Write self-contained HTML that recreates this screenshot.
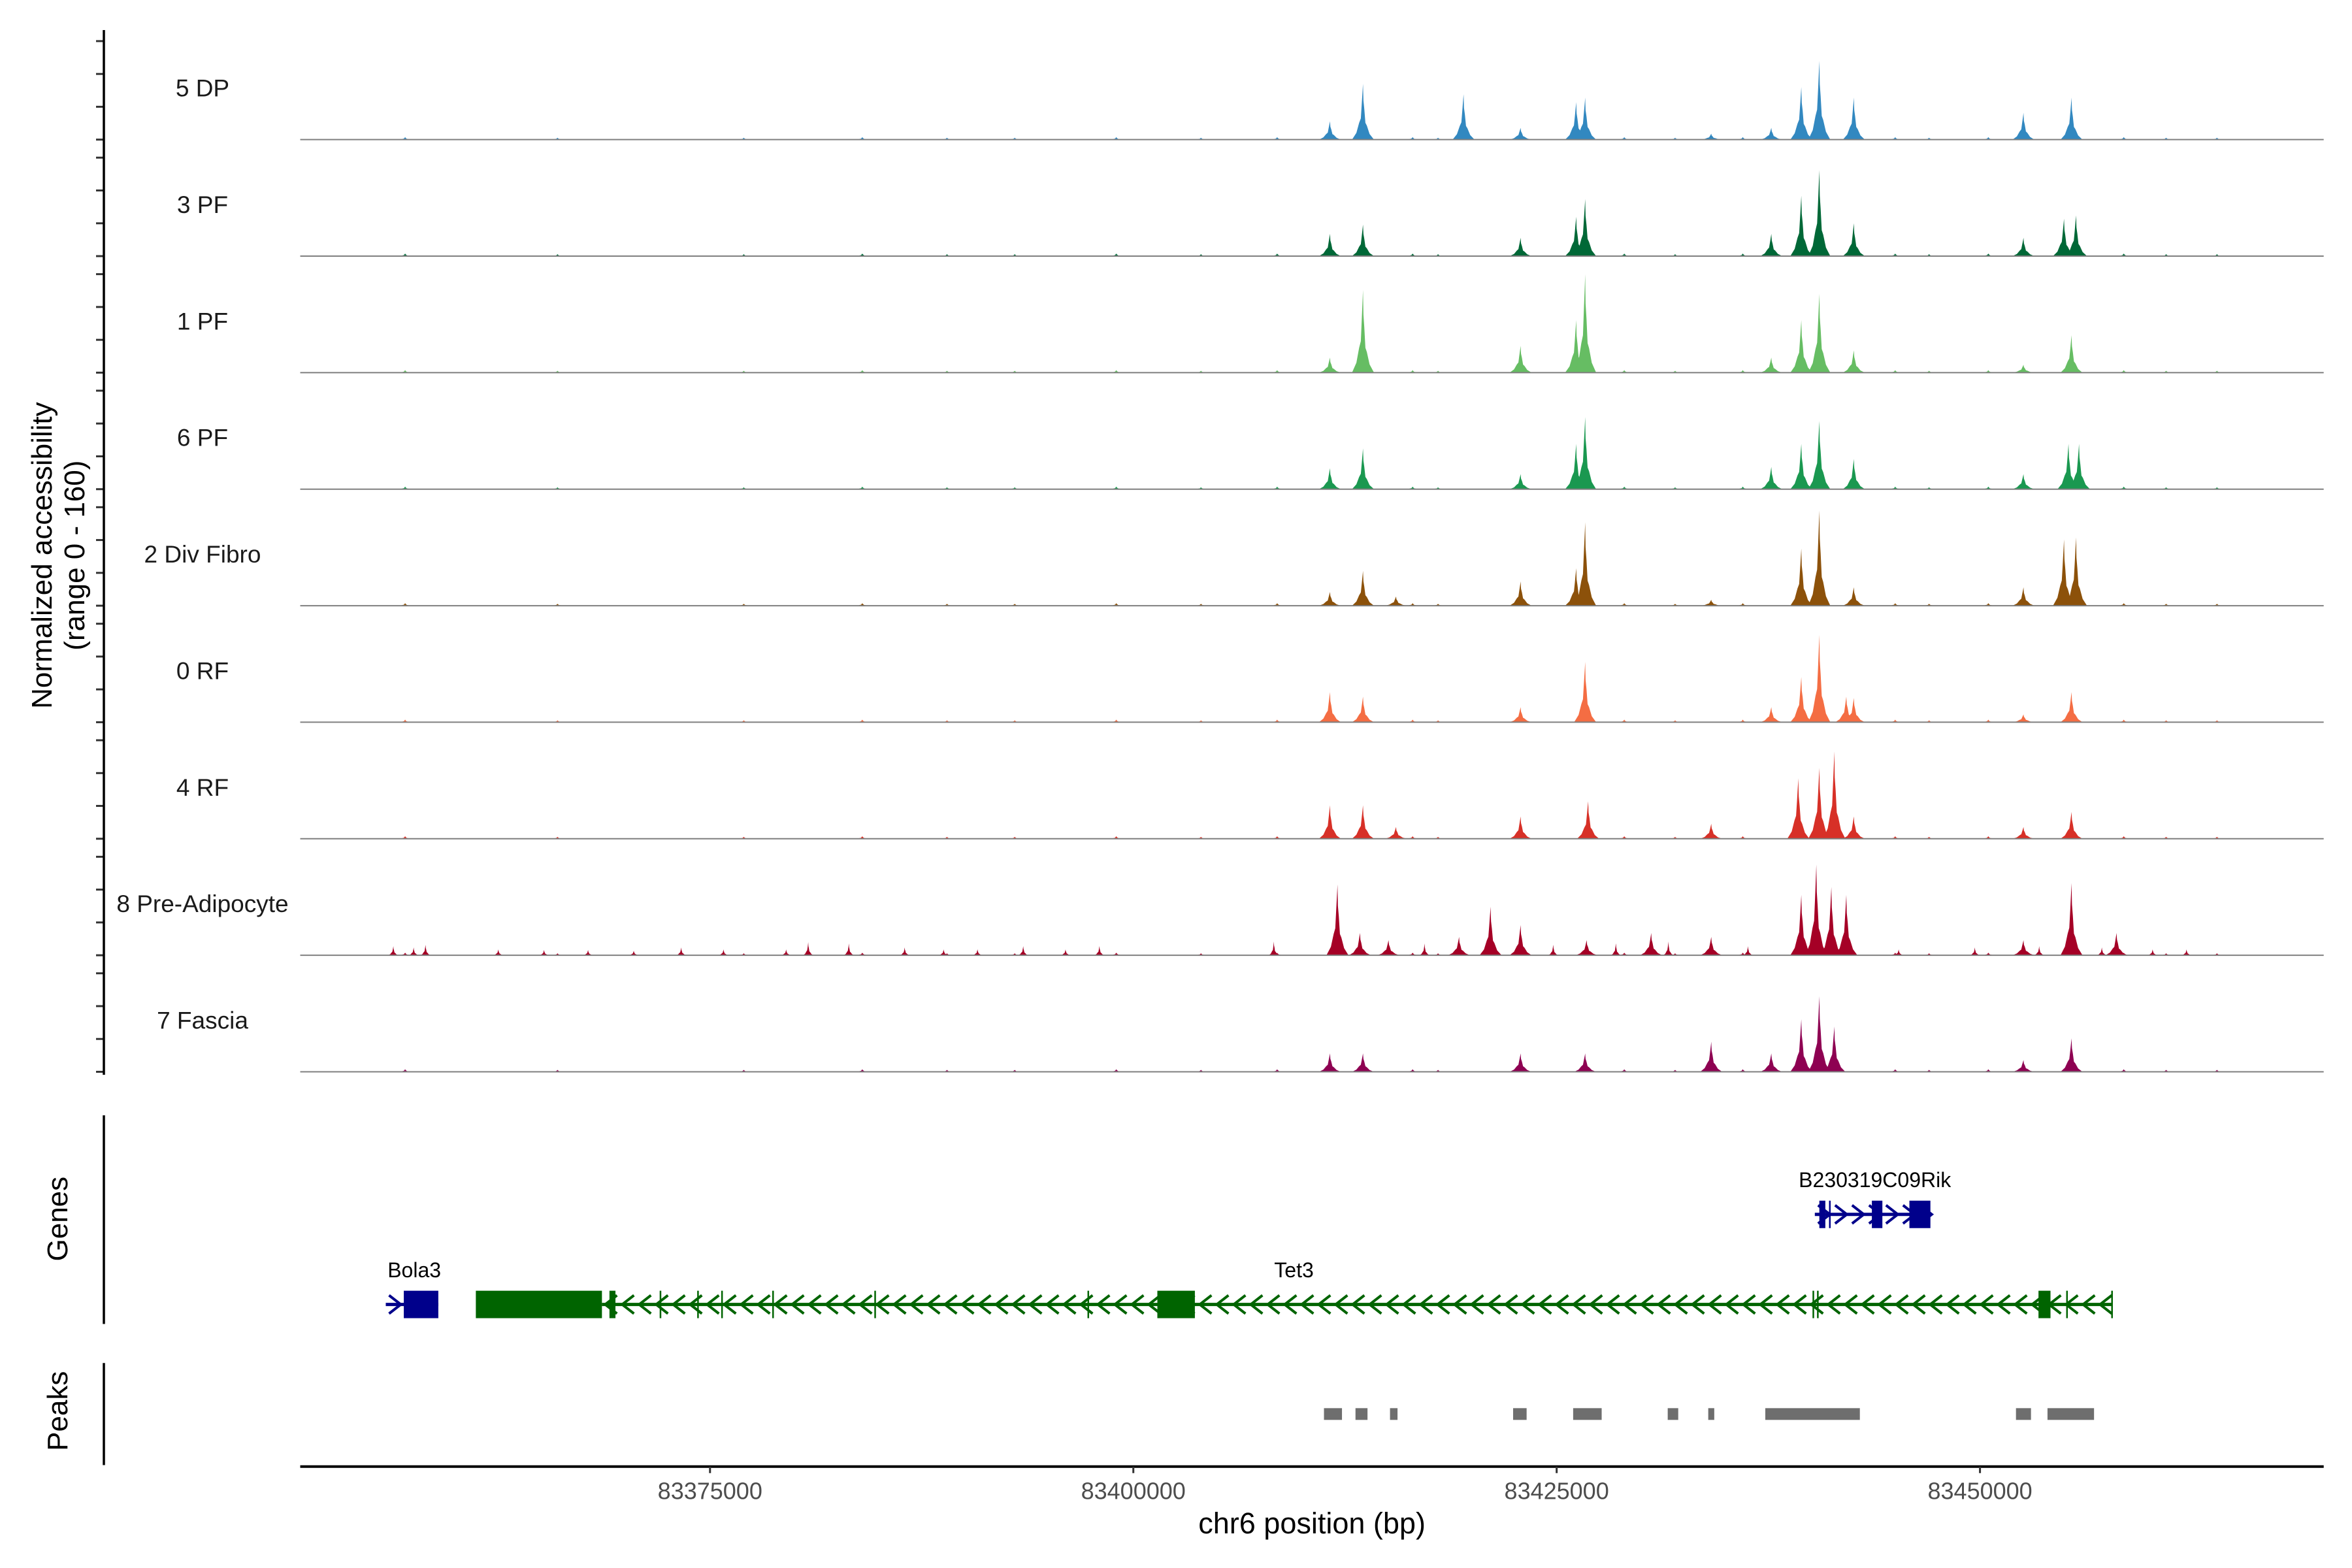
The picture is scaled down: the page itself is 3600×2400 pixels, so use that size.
<!DOCTYPE html>
<html><head><meta charset="utf-8"><style>
html,body{margin:0;padding:0;background:#fff;}
svg{display:block;font-family:"Liberation Sans",Arial,sans-serif;}
</style></head><body>
<svg id="chart" xmlns="http://www.w3.org/2000/svg" width="3600" height="2400" viewBox="0 0 3600 2400">
<rect width="3600" height="2400" fill="#fff"/>
<g id="tracks"></g>
<g id="genes"></g>
<g id="peaks"></g>
<g id="axes"></g>
</svg>
<script>
const trackNames = ["5 DP","3 PF","1 PF","6 PF","2 Div Fibro","0 RF","4 RF","8 Pre-Adipocyte","7 Fascia"];
const trackColors = ["#3288c0","#006837","#66bd63","#1a9850","#8c510a","#f46d43","#d73027","#a50026","#8e0152"];
const yRange = [0,160];
const yTicks = [0,50,100,150];
const xTicks = [83375000,83400000,83425000,83450000];
const xTickLabels = ["83375000","83400000","83425000","83450000"];

const pos5DP = [83411612,83413563,83419502,83422871,83426151,83426683,83434130,83437676,83439449,83440512,83442551,83452569,83455406];
const h5DP   = [28,85,69,18,57,64,9,18,80,120,64,41,64];
const pos3PF = [83411612,83413563,83422871,83426151,83426683,83437676,83439449,83440512,83442551,83452569,83454962,83455672];
const h3PF   = [34,48,28,60,87,34,92,131,50,28,57,62];
const pos1PF = [83411612,83413563,83422871,83426151,83426683,83437676,83439449,83440512,83442551,83452569,83455406];
const h1PF   = [23,126,41,80,150,23,80,120,34,12,57];
const pos6PF = [83411612,83413563,83422871,83426151,83426683,83437676,83439449,83440512,83442551,83452569,83455228,83455849];
const h6PF   = [32,62,23,69,110,34,69,104,46,23,69,69];
const pos2DF = [83411612,83413563,83415513,83422871,83426151,83426683,83434130,83439449,83440512,83442551,83452569,83454962,83455672];
const h2DF   = [21,53,14,37,57,127,9,87,145,28,28,101,104];
const pos0RF = [83411612,83413563,83422871,83426683,83437676,83439449,83440512,83442108,83442551,83452569,83455406];
const h0RF   = [46,39,23,92,23,69,133,39,37,12,46];
const pos4RF = [83411612,83413563,83415513,83422871,83426860,83434130,83439271,83440512,83441399,83442551,83452569,83455406];
const h4RF   = [51,51,18,34,57,23,92,108,133,34,18,41];
const posPA  = [83412056,83413385,83415070,83419236,83421098,83422871,83426772,83430584,83434130,83439449,83440335,83441222,83442108,83452569,83455406,83458065];
const hPA    = [108,34,23,28,74,46,23,34,28,92,138,104,92,23,110,34];
const posFa  = [83411612,83413563,83422871,83426683,83434130,83437676,83439449,83440512,83441399,83452569,83455406];
const hFa    = [28,28,28,28,46,28,80,115,69,18,51];

const trackPos = [pos5DP,pos3PF,pos1PF,pos6PF,pos2DF,pos0RF,pos4RF,posPA,posFa];
const trackH   = [h5DP,h3PF,h1PF,h6PF,h2DF,h0RF,h4RF,hPA,hFa];

const bgPos = [83357000,83366000,83377000,83384000,83389000,83393000,83399000,83404000,83408500,83416500,83418000,83429000,83432000,83436000,83445000,83447000,83450500,83458500,83461000,83464000];
const bgH   = [4,3,3,4,3,3,4,3,4,4,3,4,3,4,4,3,4,4,3,3];
const paSmallPos = [83356300,83357500,83358200,83362500,83365200,83367800,83370500,83373300,83375800,83379500,83380800,83383200,83386500,83388800,83390800,83393500,83396000,83398000,83408300,83417200,83424800,83428500,83431600,83436300,83445200,83449700,83453500,83457200,83460200,83462200];
const paSmallH   = [14,12,16,9,8,8,7,12,9,9,20,18,12,9,9,14,9,14,21,18,16,18,21,14,9,12,14,12,9,9];

const NS="http://www.w3.org/2000/svg";
const D=2.2976;
const BP_PER_DPX=88.65;
function xs(bp){return (473+(bp-xTicks[0])/BP_PER_DPX)*D;}
function dbp(xd){return xTicks[0]+(xd-473)*BP_PER_DPX;}
const X0=200*D, X1=1548*D;
const PXU=1.005;
function ys(v,base){return base-(v-yRange[0])*PXU;}
function el(tag,attrs,parent){const e=document.createElementNS(NS,tag);for(const k in attrs)e.setAttribute(k,attrs[k]);parent.appendChild(e);return e;}

const tracksG=document.getElementById('tracks');
const axesG=document.getElementById('axes');
const HALF=650;
function spike(c,h,base,color,g,half){
  const w=half||HALF;
  const pts=[[c-w,0],[c-w*0.6,h*0.12],[c-w*0.35,h*0.3],[c-w*0.2,h*0.38],[c-w*0.12,h*0.62],[c-w*0.03,h*0.9],[c,h],[c+w*0.04,h*0.7],[c+w*0.12,h*0.55],[c+w*0.22,h*0.3],[c+w*0.35,h*0.25],[c+w*0.6,h*0.1],[c+w,0]];
  return el('polygon',{points:pts.map(q=>xs(q[0]).toFixed(1)+','+ys(q[1],base).toFixed(1)).join(' '),fill:color},g);
}
trackNames.forEach((name,i)=>{
  const base=(93+i*77.625)*D;
  const g=el('g',{},tracksG);
  
  
  bgPos.forEach((p,j)=>{const s=spike(p,bgH[j],base,trackColors[i],g,400);
    
    });
  if(i===7){paSmallPos.forEach((p,j)=>{const s=spike(p,paSmallH[j],base,trackColors[i],g,300);
    
    });}
  trackPos[i].forEach((p,j)=>{const s=spike(p,trackH[i][j],base,trackColors[i],g);
    
    });
  const bl=el('line',{x1:X0,x2:X1,y1:base,y2:base,stroke:'#7f7f7f','stroke-width':2},g);
  
  
  const t=el('text',{x:310,y:base-66,'font-size':37,'text-anchor':'middle',fill:'#1a1a1a'},g);
  t.textContent=name;
  
  
  yTicks.forEach(v=>{const tk=el('line',{x1:147,x2:159,y1:ys(v,base),y2:ys(v,base),stroke:'#333','stroke-width':3},axesG);
    
    });
});
[[20,716,'y-axis-line'],[743,882,'genes-axis-line'],[908,976,'peaks-axis-line']].forEach(a=>{
  const l=el('line',{x1:159,x2:159,y1:a[0]*D,y2:a[1]*D,stroke:'#000','stroke-width':3.5},axesG);
  
  
});
function rotText(x,y,txt,size,name){
  const t=el('text',{x:x,y:y,'font-size':size,'text-anchor':'middle',transform:`rotate(-90 ${x} ${y})`,fill:'#000'},axesG);
  t.textContent=txt;
  
  
}
rotText(79,370*D,'Normalized accessibility',44,'y-axis-title');
rotText(129,370*D,'(range 0 - 160)',44,'y-axis-subtitle');
rotText(103,812*D,'Genes',44,'genes-panel-title');
rotText(103,940*D,'Peaks',44,'peaks-panel-title');
const xl=el('line',{x1:X0,x2:X1,y1:977*D,y2:977*D,stroke:'#000','stroke-width':4},axesG);


xTicks.forEach((v,i)=>{
  const x=xs(v);
  const tk=el('line',{x1:x,x2:x,y1:977*D,y2:977*D+10,stroke:'#333','stroke-width':3},axesG);
  
  
  const t=el('text',{x:x,y:993*D+13,'font-size':36,'text-anchor':'middle',fill:'#4d4d4d'},axesG);
  t.textContent=xTickLabels[i];
  
  
});
const xt=el('text',{x:874*D,y:1015*D+15,'font-size':45,'text-anchor':'middle',fill:'#000'},axesG);
xt.textContent='chr6 position (bp)';



const genesG=document.getElementById('genes');
const tet3Span=[dbp(401),dbp(1407)];
const tet3Exons=[[dbp(317),dbp(401)],[dbp(406),dbp(410)],[dbp(771),dbp(796)],[dbp(1358),dbp(1366)]];
const tet3Ticks=[dbp(440),dbp(465),dbp(481),dbp(515),dbp(583),dbp(725),dbp(1208),dbp(1211),dbp(1377),dbp(1407)];
const bolaSpan=[dbp(257),dbp(292)], bolaExons=[[dbp(269),dbp(292)]];
const bSpan=[dbp(1209),dbp(1286)], bExons=[[dbp(1212),dbp(1216)],[dbp(1247),dbp(1254)],[dbp(1272),dbp(1286)]], bTicks=[dbp(1219)];
function drawGene(name,span,exons,ticks,y,color,dir,lx,ly){
  const g=el('g',{},genesG);
  
  
  el('line',{x1:xs(span[0]),x2:xs(span[1]),y1:y,y2:y,stroke:color,'stroke-width':5},g);
  for(let x=xs(span[0])+14;x<xs(span[1])-4;x+=26){
    const d=dir*9;
    el('polyline',{points:`${x+d},${y-14} ${x-d},${y} ${x+d},${y+14}`,fill:'none',stroke:color,'stroke-width':4},g);
  }
  ticks.forEach(t=>el('line',{x1:xs(t),x2:xs(t),y1:y-21,y2:y+21,stroke:color,'stroke-width':2.5},g));
  exons.forEach(e=>el('rect',{x:xs(e[0]),y:y-21,width:Math.max(5,xs(e[1])-xs(e[0])),height:42,fill:color},g));
  const t=el('text',{x:lx,y:ly,'font-size':32,'text-anchor':'middle',fill:'#000'},g);
  t.textContent=name;
  
  
}
drawGene('Bola3',bolaSpan,bolaExons,[],869*D,'#00008b',-1,276*D,846*D+11);
drawGene('Tet3',tet3Span,tet3Exons,tet3Ticks,869*D,'#006400',1,862*D,846*D+11);
drawGene('B230319C09Rik',bSpan,bExons,bTicks,809*D,'#00008b',-1,1249*D,786*D+11);

const peakStarts=[dbp(882),dbp(903),dbp(926),dbp(1008),dbp(1048),dbp(1111),dbp(1138),dbp(1176),dbp(1343),dbp(1364)];
const peakEnds  =[dbp(894),dbp(911),dbp(931),dbp(1017),dbp(1067),dbp(1118),dbp(1142),dbp(1239),dbp(1353),dbp(1395)];
const peaksG=document.getElementById('peaks');
peakStarts.forEach((s,i)=>{
  const r=el('rect',{x:xs(s),y:942*D-9,width:xs(peakEnds[i])-xs(s),height:18,fill:'#6e6e6e'},peaksG);
  
  
});
</script>
</body></html>
